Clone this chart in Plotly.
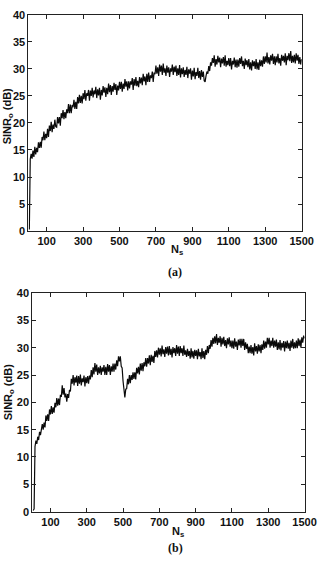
import plotly.graph_objects as go

W, H = 331, 561

# sample index grid (every 5th snapshot)
ns = list(range(5, 1501, 5))

sinr_a = [
    0.3, 13.3, 14.3, 13.4, 14.9, 13.7, 15.6, 14.2, 15.4, 14.6,
    16.4, 15.4, 16.5, 15.4, 17.4, 16.8, 18.4, 16.8, 18.0, 17.2,
    18.9, 17.4, 19.5, 18.5, 20.2, 18.3, 19.7, 18.9, 20.6, 19.3,
    19.2, 21.1, 19.9, 21.1, 19.5, 21.8, 20.9, 22.4, 20.7, 22.0,
    20.9, 22.5, 21.8, 23.5, 21.8, 23.4, 21.8, 23.3, 22.9, 24.3,
    22.6, 23.9, 22.6, 24.8, 23.6, 25.2, 23.7, 25.0, 23.6, 25.5,
    24.4, 26.1, 24.1, 25.5, 25.0, 26.1, 24.1, 26.0, 25.0, 26.5,
    24.7, 26.0, 25.3, 26.7, 24.6, 26.2, 25.1, 26.5, 24.3, 26.1,
    25.1, 26.8, 25.6, 26.6, 24.8, 26.5, 25.3, 27.3, 25.7, 27.0,
    25.2, 26.8, 25.8, 27.4, 26.1, 27.2, 25.2, 26.9, 26.0, 27.6,
    26.3, 27.6, 25.8, 27.3, 26.3, 28.1, 26.7, 27.7, 26.0, 27.7,
    26.4, 27.7, 27.1, 28.3, 26.1, 28.1, 26.9, 28.5, 26.8, 27.8,
    26.6, 28.5, 27.3, 28.4, 27.0, 29.1, 27.7, 28.6, 27.0, 29.1,
    27.6, 29.3, 27.6, 28.8, 28.3, 29.5, 27.6, 29.3, 29.0, 30.6,
    29.1, 30.3, 28.7, 30.8, 29.5, 30.6, 28.9, 31.0, 29.3, 30.1,
    28.7, 30.6, 29.3, 30.3, 28.5, 30.1, 29.5, 30.8, 28.9, 30.4,
    29.4, 30.6, 28.7, 30.1, 28.9, 30.7, 28.4, 30.1, 29.0, 30.3,
    28.5, 29.8, 28.9, 30.4, 28.3, 29.9, 29.1, 30.1, 28.0, 29.7,
    28.6, 30.2, 28.1, 29.4, 28.7, 30.2, 28.3, 29.6, 28.0, 29.8,
    28.5, 29.5, 27.8, 27.6, 28.7, 29.5, 29.1, 30.5, 29.6, 31.2,
    30.6, 32.0, 31.1, 32.5, 30.4, 31.8, 30.8, 32.4, 31.2, 32.1,
    30.3, 31.9, 31.0, 32.2, 30.6, 32.5, 30.4, 31.5, 30.7, 32.0,
    30.5, 32.0, 29.9, 31.5, 30.8, 32.1, 30.3, 31.7, 30.2, 31.7,
    30.4, 32.0, 30.9, 32.3, 30.5, 31.5, 30.0, 31.9, 30.7, 31.6,
    30.3, 31.8, 29.9, 31.2, 29.7, 31.6, 30.5, 31.4, 30.0, 31.8,
    29.9, 31.2, 29.8, 31.7, 30.5, 31.6, 30.4, 32.3, 30.9, 32.3,
    31.2, 33.0, 31.0, 32.2, 30.8, 32.5, 31.5, 32.8, 30.9, 32.3,
    30.7, 32.3, 31.2, 32.8, 31.0, 32.0, 30.6, 32.6, 31.5, 32.4,
    31.2, 32.9, 30.7, 32.4, 31.6, 32.9, 31.4, 33.3, 31.1, 32.4,
    31.2, 32.6, 31.0, 32.9, 31.5, 32.6, 30.9, 32.2, 30.8, 31.8,
]

sinr_b = [
    0.2, 0.5, 11.9, 13.0, 12.4, 13.7, 13.1, 14.6, 14.0, 15.1,
    16.0, 15.0, 16.3, 15.4, 17.6, 16.6, 17.8, 16.6, 18.7, 17.8,
    19.3, 17.9, 19.1, 18.1, 19.9, 19.1, 20.8, 19.4, 20.7, 19.5,
    21.4, 21.0, 23.1, 21.4, 22.6, 20.9, 21.6, 20.1, 21.5, 20.8,
    22.3, 22.0, 24.3, 23.4, 25.0, 23.1, 24.6, 23.6, 24.9, 23.0,
    24.8, 23.4, 25.1, 23.1, 24.4, 23.7, 24.9, 22.9, 24.6, 23.5,
    24.8, 23.4, 24.9, 24.2, 25.9, 24.6, 26.4, 25.1, 27.2, 25.6,
    26.9, 25.0, 26.4, 25.3, 26.7, 25.0, 26.4, 25.6, 26.8, 25.0,
    26.5, 25.0, 27.0, 25.6, 26.8, 25.0, 26.6, 25.6, 27.1, 25.6,
    27.1, 26.0, 27.7, 26.6, 28.4, 27.5, 28.4, 26.6, 26.3, 23.9,
    22.2, 20.9, 22.4, 22.5, 24.3, 23.3, 25.0, 23.5, 25.0, 24.1,
    25.5, 24.3, 25.5, 24.2, 26.3, 25.3, 26.5, 25.1, 27.1, 25.8,
    27.2, 25.7, 27.3, 26.6, 28.1, 26.5, 28.1, 27.1, 28.6, 26.8,
    28.7, 27.4, 28.5, 27.2, 29.4, 28.3, 29.5, 28.2, 30.0, 28.7,
    29.9, 28.4, 30.4, 28.8, 29.7, 28.3, 30.1, 28.9, 30.2, 28.6,
    30.3, 28.7, 29.8, 28.2, 30.1, 29.0, 29.9, 28.5, 30.5, 28.9,
    30.2, 28.5, 30.3, 29.0, 29.9, 28.5, 30.4, 28.7, 29.5, 28.3,
    29.8, 28.5, 29.4, 28.0, 29.9, 28.2, 29.4, 28.0, 29.6, 28.5,
    29.5, 27.9, 29.8, 28.4, 29.2, 27.9, 29.9, 28.1, 29.4, 27.9,
    29.6, 28.7, 30.3, 29.0, 30.5, 29.8, 31.4, 30.2, 31.8, 30.7,
    32.1, 30.8, 32.5, 30.5, 31.8, 30.9, 32.1, 30.2, 31.8, 30.6,
    32.0, 30.3, 31.4, 29.9, 31.7, 30.6, 31.9, 30.2, 31.3, 29.9,
    31.3, 29.8, 31.7, 30.2, 31.1, 29.6, 31.5, 30.4, 31.6, 30.0,
    31.6, 30.3, 31.6, 29.6, 31.0, 29.8, 30.7, 29.0, 30.2, 29.0,
    30.5, 28.9, 30.1, 28.6, 30.8, 29.3, 30.3, 28.9, 30.6, 29.3,
    30.5, 29.0, 30.6, 29.6, 31.3, 29.8, 31.1, 30.0, 31.8, 30.6,
    31.8, 30.0, 31.3, 30.3, 31.8, 30.0, 31.3, 30.2, 31.5, 29.6,
    31.0, 29.7, 31.4, 29.5, 30.9, 30.0, 31.2, 29.3, 31.1, 29.9,
    31.3, 29.8, 30.9, 29.4, 31.3, 30.0, 31.6, 29.8, 31.0, 29.9,
    31.3, 29.9, 31.7, 30.3, 31.5, 30.0, 31.9, 30.9, 32.2, 31.7,
]

x_ticks = [100, 300, 500, 700, 900, 1100, 1300, 1500]
y_ticks = [0, 5, 10, 15, 20, 25, 30, 35, 40]
y_label = "SINR<sub>o</sub> (dB)"
x_label = "N<sub>s</sub>"
captions = ["(a)", "(b)"]

def px_x(p):
    return p / W

def px_y(p):
    return (H - p) / H

fig = go.Figure()
line_style = dict(color="#0a0a0a", width=1.2)
fig.add_trace(go.Scatter(x=ns, y=sinr_a, mode="lines", line=line_style,
                         xaxis="x", yaxis="y", showlegend=False))
fig.add_trace(go.Scatter(x=ns, y=sinr_b, mode="lines", line=line_style,
                         xaxis="x2", yaxis="y2", showlegend=False))

tick_font = dict(family="Liberation Sans, Arial, sans-serif", size=11, color="#111111", weight=600)
common_x = dict(range=[0, 1500], tickvals=x_ticks, ticktext=[str(v) for v in x_ticks],
                ticks="inside", ticklen=4, tickcolor="#222", showline=True,
                linecolor="#222", linewidth=1, mirror="ticks", showgrid=False,
                zeroline=False, tickfont=tick_font)
common_y = dict(range=[0, 40], tickvals=y_ticks, ticks="inside", ticklen=4,
                tickcolor="#222", showline=True, linecolor="#222", linewidth=1,
                mirror="ticks", showgrid=False, zeroline=False, tickfont=tick_font)

fig.update_layout(
    width=W, height=H,
    margin=dict(l=0, r=0, t=0, b=0),
    paper_bgcolor="white", plot_bgcolor="white",
    xaxis=dict(domain=[px_x(29.5), px_x(313)], anchor="y", **common_x),
    yaxis=dict(domain=[px_y(230), px_y(9)], anchor="x", **common_y),
    xaxis2=dict(domain=[px_x(33.5), px_x(316)], anchor="y2", **common_x),
    yaxis2=dict(domain=[px_y(516.7), px_y(293.3)], anchor="x2", **common_y),
)

ann_font = dict(family="Liberation Sans, Arial, sans-serif", size=11, color="#111111", weight=600)
cap_font = dict(family="Liberation Serif, Times New Roman, serif", size=12, color="#111111")
anns = [
    dict(text=y_label, x=px_x(8), y=px_y(113), textangle=-90, font=ann_font),
    dict(text=x_label, x=px_x(184), y=px_y(249), font=ann_font),
    dict(text="<b>" + captions[0] + "</b>", x=px_x(182), y=px_y(272), font=cap_font),
    dict(text=y_label, x=px_x(9), y=px_y(395), textangle=-90, font=ann_font),
    dict(text=x_label, x=px_x(185), y=px_y(537), font=ann_font),
    dict(text="<b>" + captions[1] + "</b>", x=px_x(182), y=px_y(554), font=cap_font),
]
for a in anns:
    fig.add_annotation(xref="paper", yref="paper", showarrow=False,
                       xanchor="center", yanchor="middle", **a)

fig.write_html("out.html")
